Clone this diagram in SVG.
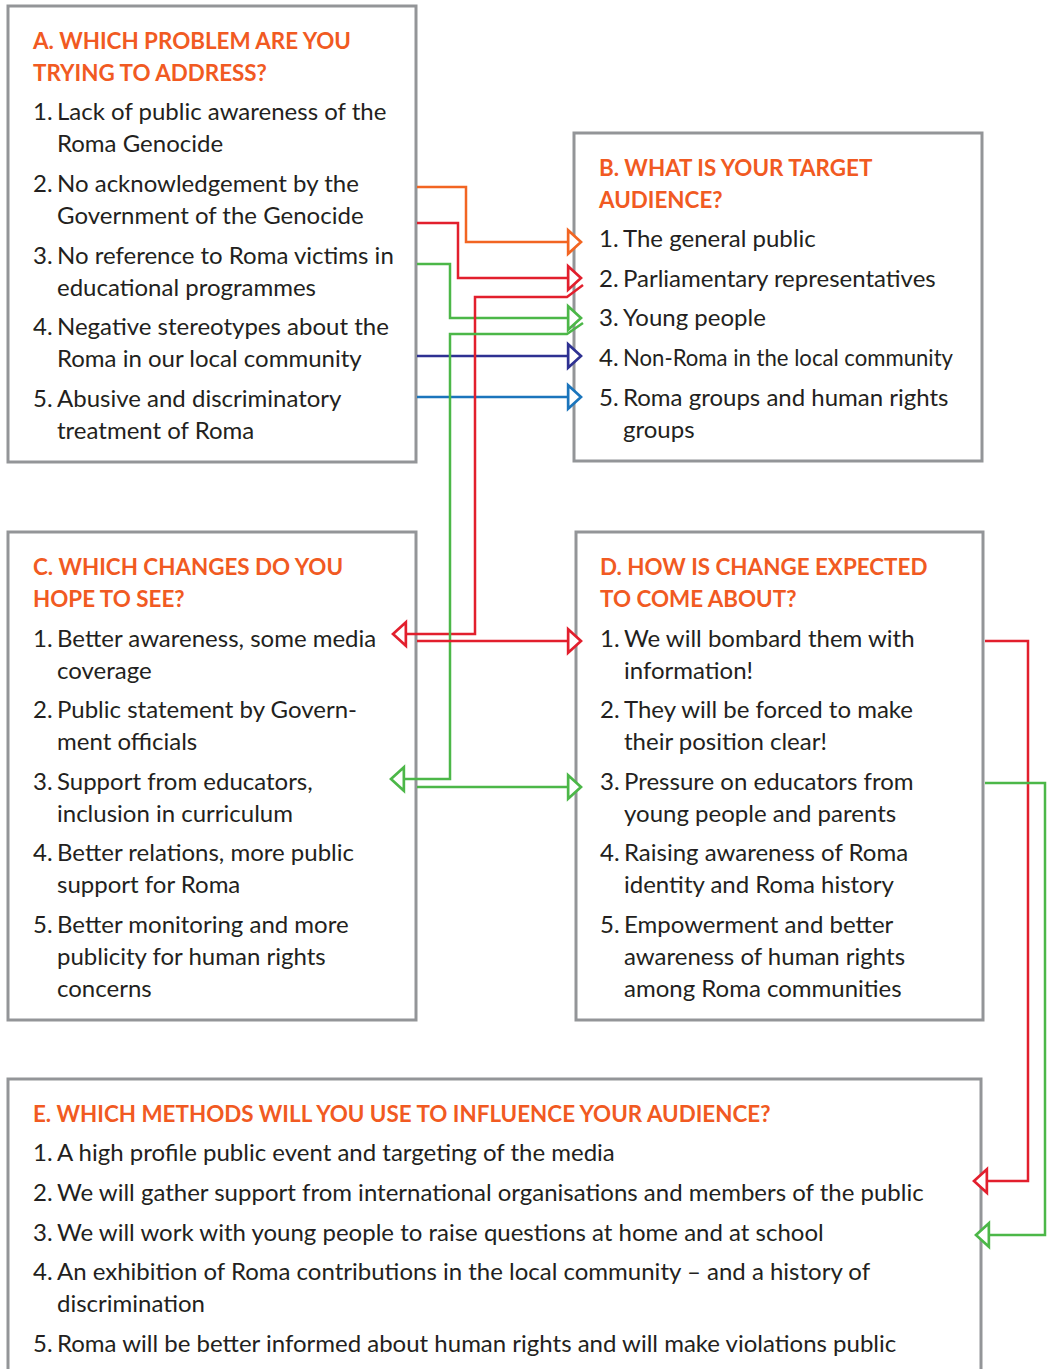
<svg xmlns="http://www.w3.org/2000/svg" width="1049" height="1369" viewBox="0 0 1049 1369">
<style>
.box{fill:#fff;stroke:#939598;stroke-width:3}
.t{font-family:Lato,"Open Sans","Liberation Sans",sans-serif;font-size:24px;fill:#231f20}
.h{font-family:Lato,"Open Sans","Liberation Sans",sans-serif;font-size:22.4px;font-weight:bold;fill:#f15a22}
.c{fill:none;stroke-width:2.5;stroke-linejoin:miter}
</style>
<defs>
<marker id="mo" markerUnits="userSpaceOnUse" markerWidth="20" markerHeight="30" viewBox="-2 -14 18 28" refX="13" refY="0" orient="auto"><path d="M1,-11 L13,0 L1,11 Z" fill="#fff" stroke="#f26522" stroke-width="2.5"/></marker>
<marker id="mr" markerUnits="userSpaceOnUse" markerWidth="20" markerHeight="30" viewBox="-2 -14 18 28" refX="13" refY="0" orient="auto"><path d="M1,-11 L13,0 L1,11 Z" fill="#fff" stroke="#e21f2d" stroke-width="2.5"/></marker>
<marker id="mg" markerUnits="userSpaceOnUse" markerWidth="20" markerHeight="30" viewBox="-2 -14 18 28" refX="13" refY="0" orient="auto"><path d="M1,-11 L13,0 L1,11 Z" fill="#fff" stroke="#4cb748" stroke-width="2.5"/></marker>
<marker id="mn" markerUnits="userSpaceOnUse" markerWidth="20" markerHeight="30" viewBox="-2 -14 18 28" refX="13" refY="0" orient="auto"><path d="M1,-11 L13,0 L1,11 Z" fill="#fff" stroke="#2e3192" stroke-width="2.5"/></marker>
<marker id="mb" markerUnits="userSpaceOnUse" markerWidth="20" markerHeight="30" viewBox="-2 -14 18 28" refX="13" refY="0" orient="auto"><path d="M1,-11 L13,0 L1,11 Z" fill="#fff" stroke="#1b75bc" stroke-width="2.5"/></marker>
</defs>
<rect width="1049" height="1369" fill="#fff"/>

<g id="nodeA">
<rect class="box" x="8" y="6" width="408" height="456"/>
<text class="h" x="33" y="49">A. WHICH PROBLEM ARE YOU</text>
<text class="h" x="33" y="81">TRYING TO ADDRESS?</text>
<text class="t"><tspan x="33" y="120">1.</tspan><tspan x="57" y="120">Lack of public awareness of the</tspan><tspan x="57" y="152">Roma Genocide</tspan></text>
<text class="t"><tspan x="33" y="192">2.</tspan><tspan x="57" y="192">No acknowledgement by the</tspan><tspan x="57" y="224">Government of the Genocide</tspan></text>
<text class="t"><tspan x="33" y="264">3.</tspan><tspan x="57" y="264">No reference to Roma victims in</tspan><tspan x="57" y="296">educational programmes</tspan></text>
<text class="t"><tspan x="33" y="335">4.</tspan><tspan x="57" y="335">Negative stereotypes about the</tspan><tspan x="57" y="367">Roma in our local community</tspan></text>
<text class="t"><tspan x="33" y="407">5.</tspan><tspan x="57" y="407">Abusive and discriminatory</tspan><tspan x="57" y="439">treatment of Roma</tspan></text>
</g>

<g id="nodeB">
<rect class="box" x="574" y="133" width="408" height="328"/>
<text class="h" x="599" y="176">B. WHAT IS YOUR TARGET</text>
<text class="h" x="599" y="208">AUDIENCE?</text>
<text class="t"><tspan x="599" y="247">1.</tspan><tspan x="623" y="247">The general public</tspan></text>
<text class="t"><tspan x="599" y="287">2.</tspan><tspan x="623" y="287">Parliamentary representatives</tspan></text>
<text class="t"><tspan x="599" y="326">3.</tspan><tspan x="623" y="326">Young people</tspan></text>
<text class="t"><tspan x="599" y="366">4.</tspan><tspan x="623" y="366" textLength="330" lengthAdjust="spacingAndGlyphs">Non-Roma in the local community</tspan></text>
<text class="t"><tspan x="599" y="406">5.</tspan><tspan x="623" y="406">Roma groups and human rights</tspan><tspan x="623" y="438">groups</tspan></text>
</g>

<g id="nodeC">
<rect class="box" x="8" y="532" width="408" height="488"/>
<text class="h" x="33" y="575">C. WHICH CHANGES DO YOU</text>
<text class="h" x="33" y="607">HOPE TO SEE?</text>
<text class="t"><tspan x="33" y="647">1.</tspan><tspan x="57" y="647">Better awareness, some media</tspan><tspan x="57" y="679">coverage</tspan></text>
<text class="t"><tspan x="33" y="718">2.</tspan><tspan x="57" y="718">Public statement by Govern-</tspan><tspan x="57" y="750">ment officials</tspan></text>
<text class="t"><tspan x="33" y="790">3.</tspan><tspan x="57" y="790">Support from educators,</tspan><tspan x="57" y="822">inclusion in curriculum</tspan></text>
<text class="t"><tspan x="33" y="861">4.</tspan><tspan x="57" y="861">Better relations, more public</tspan><tspan x="57" y="893">support for Roma</tspan></text>
<text class="t"><tspan x="33" y="933">5.</tspan><tspan x="57" y="933">Better monitoring and more</tspan><tspan x="57" y="965">publicity for human rights</tspan><tspan x="57" y="997">concerns</tspan></text>
</g>

<g id="nodeD">
<rect class="box" x="576" y="532" width="407" height="488"/>
<text class="h" x="600" y="575">D. HOW IS CHANGE EXPECTED</text>
<text class="h" x="600" y="607">TO COME ABOUT?</text>
<text class="t"><tspan x="600" y="647">1.</tspan><tspan x="624" y="647">We will bombard them with</tspan><tspan x="624" y="679">information!</tspan></text>
<text class="t"><tspan x="600" y="718">2.</tspan><tspan x="624" y="718">They will be forced to make</tspan><tspan x="624" y="750">their position clear!</tspan></text>
<text class="t"><tspan x="600" y="790">3.</tspan><tspan x="624" y="790">Pressure on educators from</tspan><tspan x="624" y="822">young people and parents</tspan></text>
<text class="t"><tspan x="600" y="861">4.</tspan><tspan x="624" y="861">Raising awareness of Roma</tspan><tspan x="624" y="893">identity and Roma history</tspan></text>
<text class="t"><tspan x="600" y="933">5.</tspan><tspan x="624" y="933">Empowerment and better</tspan><tspan x="624" y="965">awareness of human rights</tspan><tspan x="624" y="997">among Roma communities</tspan></text>
</g>

<g id="nodeE">
<rect class="box" x="8" y="1079" width="973" height="320"/>
<text class="h" x="33" y="1122">E. WHICH METHODS WILL YOU USE TO INFLUENCE YOUR AUDIENCE?</text>
<text class="t"><tspan x="33" y="1161">1.</tspan><tspan x="57" y="1161">A high profile public event and targeting of the media</tspan></text>
<text class="t"><tspan x="33" y="1201">2.</tspan><tspan x="57" y="1201">We will gather support from international organisations and members of the public</tspan></text>
<text class="t"><tspan x="33" y="1241">3.</tspan><tspan x="57" y="1241">We will work with young people to raise questions at home and at school</tspan></text>
<text class="t"><tspan x="33" y="1280">4.</tspan><tspan x="57" y="1280">An exhibition of Roma contributions in the local community – and a history of</tspan><tspan x="57" y="1312">discrimination</tspan></text>
<text class="t"><tspan x="33" y="1352">5.</tspan><tspan x="57" y="1352">Roma will be better informed about human rights and will make violations public</tspan></text>
</g>

<g id="connectors">
<polyline class="c" stroke="#f26522" points="417,187 466,187 466,242 581,242" marker-end="url(#mo)"/>
<polyline class="c" stroke="#e21f2d" points="417,223 458,223 458,278 581,278" marker-end="url(#mr)"/>
<polyline class="c" stroke="#4cb748" points="417,264 450,264 450,318 581,318" marker-end="url(#mg)"/>
<polyline class="c" stroke="#2e3192" points="417,356 581,356" marker-end="url(#mn)"/>
<polyline class="c" stroke="#1b75bc" points="417,397 581,397" marker-end="url(#mb)"/>
<polyline class="c" stroke="#e21f2d" points="583,285 567,297 475,297 475,634 393,634" marker-end="url(#mr)"/>
<polyline class="c" stroke="#4cb748" points="583,323 567,334 450,334 450,779 391,779" marker-end="url(#mg)"/>
<polyline class="c" stroke="#e21f2d" points="417,641 581,641" marker-end="url(#mr)"/>
<polyline class="c" stroke="#4cb748" points="417,787 581,787" marker-end="url(#mg)"/>
<polyline class="c" stroke="#e21f2d" points="985,641 1028,641 1028,1181 974,1181" marker-end="url(#mr)"/>
<polyline class="c" stroke="#4cb748" points="985,783 1045,783 1045,1235 976,1235" marker-end="url(#mg)"/>
</g>
</svg>
